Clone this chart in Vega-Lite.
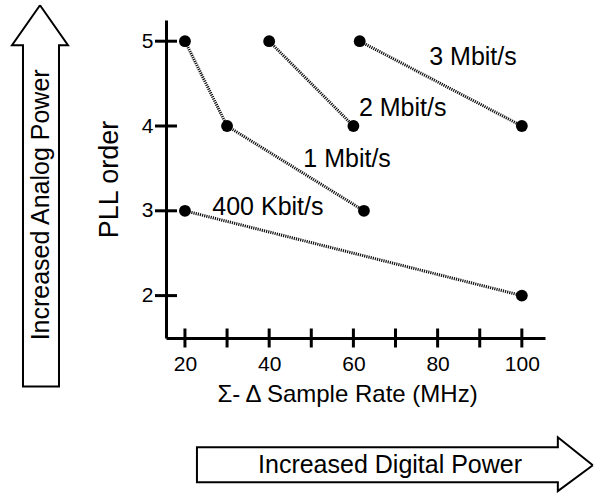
{
  "$schema": "https://vega.github.io/schema/vega-lite/v6.json",
  "width": 379,
  "height": 318,
  "autosize": {"type": "none"},
  "padding": {"left": 166, "top": 20, "right": 50, "bottom": 155},
  "background": "white",
  "config": {
    "view": {"stroke": null},
    "font": "Liberation Sans",
    "axis": {"domainColor": "black", "domainWidth": 3, "ticks": false, "grid": false, "labelColor": "black", "titleColor": "black", "labelFont": "Liberation Sans", "titleFont": "Liberation Sans", "titleFontWeight": "normal"}
  },
  "datasets": {
    "series": [
      {"rate": "400 Kbit/s", "fs": 20, "order": 3},
      {"rate": "400 Kbit/s", "fs": 100, "order": 2},
      {"rate": "1 Mbit/s", "fs": 20, "order": 5},
      {"rate": "1 Mbit/s", "fs": 30, "order": 4},
      {"rate": "1 Mbit/s", "fs": 62.5, "order": 3},
      {"rate": "2 Mbit/s", "fs": 40, "order": 5},
      {"rate": "2 Mbit/s", "fs": 60, "order": 4},
      {"rate": "3 Mbit/s", "fs": 61.5, "order": 5},
      {"rate": "3 Mbit/s", "fs": 100, "order": 4}
    ],
    "labels": [
      {"text": "3 Mbit/s", "fs": 88.4, "order": 4.81},
      {"text": "2 Mbit/s", "fs": 71.7, "order": 4.21},
      {"text": "1 Mbit/s", "fs": 58.5, "order": 3.61},
      {"text": "400 Kbit/s", "fs": 39.7, "order": 3.05}
    ],
    "xticks": [
      {"fs": 20, "order": 1.5}, {"fs": 30, "order": 1.5}, {"fs": 40, "order": 1.5},
      {"fs": 50, "order": 1.5}, {"fs": 60, "order": 1.5}, {"fs": 70, "order": 1.5},
      {"fs": 80, "order": 1.5}, {"fs": 90, "order": 1.5}, {"fs": 100, "order": 1.5}
    ],
    "yticks": [
      {"fs": 15.5, "order": 2}, {"fs": 15.5, "order": 3}, {"fs": 15.5, "order": 4}, {"fs": 15.5, "order": 5}
    ],
    "arrows": [
      {"arrow": "analog", "k": 0, "fs": -14.42, "order": 5.424},
      {"arrow": "analog", "k": 1, "fs": -7.77, "order": 4.953},
      {"arrow": "analog", "k": 2, "fs": -9.91, "order": 4.953},
      {"arrow": "analog", "k": 3, "fs": -9.91, "order": 0.929},
      {"arrow": "analog", "k": 4, "fs": -18.46, "order": 0.929},
      {"arrow": "analog", "k": 5, "fs": -18.46, "order": 4.953},
      {"arrow": "analog", "k": 6, "fs": -21.07, "order": 4.953},
      {"arrow": "analog", "k": 7, "fs": -14.42, "order": 5.424},
      {"arrow": "digital", "k": 0, "fs": 116.86, "order": 0.0},
      {"arrow": "digital", "k": 1, "fs": 108.55, "order": 0.329},
      {"arrow": "digital", "k": 2, "fs": 108.55, "order": 0.212},
      {"arrow": "digital", "k": 3, "fs": 22.85, "order": 0.212},
      {"arrow": "digital", "k": 4, "fs": 22.85, "order": -0.2},
      {"arrow": "digital", "k": 5, "fs": 108.55, "order": -0.2},
      {"arrow": "digital", "k": 6, "fs": 108.55, "order": -0.306},
      {"arrow": "digital", "k": 7, "fs": 116.86, "order": 0.0}
    ],
    "arrowText": [
      {"text": "Increased Analog Power", "fs": -14.2, "order": 3.07, "angle": 270},
      {"text": "Increased Digital Power", "fs": 68.7, "order": 0.0, "angle": 0}
    ]
  },
  "layer": [
    {
      "data": {"name": "series"},
      "mark": {"type": "line", "color": "#111", "strokeWidth": 3, "strokeDash": [1.2, 1], "clip": false},
      "encoding": {
        "x": {"field": "fs", "type": "quantitative",
          "scale": {"domain": [15.5, 105.5], "nice": false, "zero": false},
          "axis": {"values": [20, 40, 60, 80, 100], "labelFontSize": 21, "labelPadding": 15, "title": "Σ- Δ Sample Rate (MHz)", "titleFontSize": 24, "titlePadding": 8, "titleX": 181, "titleAlign": "center"}},
        "y": {"field": "order", "type": "quantitative",
          "scale": {"domain": [1.5, 5.25], "nice": false, "zero": false},
          "axis": {"values": [2, 3, 4, 5], "format": "d", "labelFontSize": 21, "labelPadding": 13, "title": "PLL order", "titleFontSize": 27, "titlePadding": 18}},
        "detail": {"field": "rate"}
      }
    },
    {
      "data": {"name": "series"},
      "mark": {"type": "point", "filled": true, "color": "black", "size": 140, "opacity": 1},
      "encoding": {
        "x": {"field": "fs", "type": "quantitative"},
        "y": {"field": "order", "type": "quantitative"}
      }
    },
    {
      "data": {"name": "labels"},
      "mark": {"type": "text", "fontSize": 25, "color": "black", "align": "center", "baseline": "middle"},
      "encoding": {
        "x": {"field": "fs", "type": "quantitative"},
        "y": {"field": "order", "type": "quantitative"},
        "text": {"field": "text"}
      }
    },
    {
      "data": {"name": "xticks"},
      "mark": {"type": "tick", "orient": "vertical", "color": "black", "size": 19, "thickness": 3, "opacity": 1},
      "encoding": {
        "x": {"field": "fs", "type": "quantitative"},
        "y": {"field": "order", "type": "quantitative"}
      }
    },
    {
      "data": {"name": "yticks"},
      "mark": {"type": "tick", "orient": "horizontal", "color": "black", "size": 22, "thickness": 3, "opacity": 1},
      "encoding": {
        "x": {"field": "fs", "type": "quantitative"},
        "y": {"field": "order", "type": "quantitative"}
      }
    },
    {
      "data": {"name": "arrows"},
      "mark": {"type": "line", "color": "black", "strokeWidth": 2, "clip": false, "strokeJoin": "miter"},
      "encoding": {
        "x": {"field": "fs", "type": "quantitative"},
        "y": {"field": "order", "type": "quantitative"},
        "detail": {"field": "arrow"},
        "order": {"field": "k"}
      }
    },
    {
      "data": {"name": "arrowText"},
      "mark": {"type": "text", "fontSize": 25, "color": "black", "align": "center", "baseline": "middle"},
      "encoding": {
        "x": {"field": "fs", "type": "quantitative"},
        "y": {"field": "order", "type": "quantitative"},
        "text": {"field": "text"},
        "angle": {"field": "angle", "type": "quantitative", "scale": null}
      }
    }
  ]
}
